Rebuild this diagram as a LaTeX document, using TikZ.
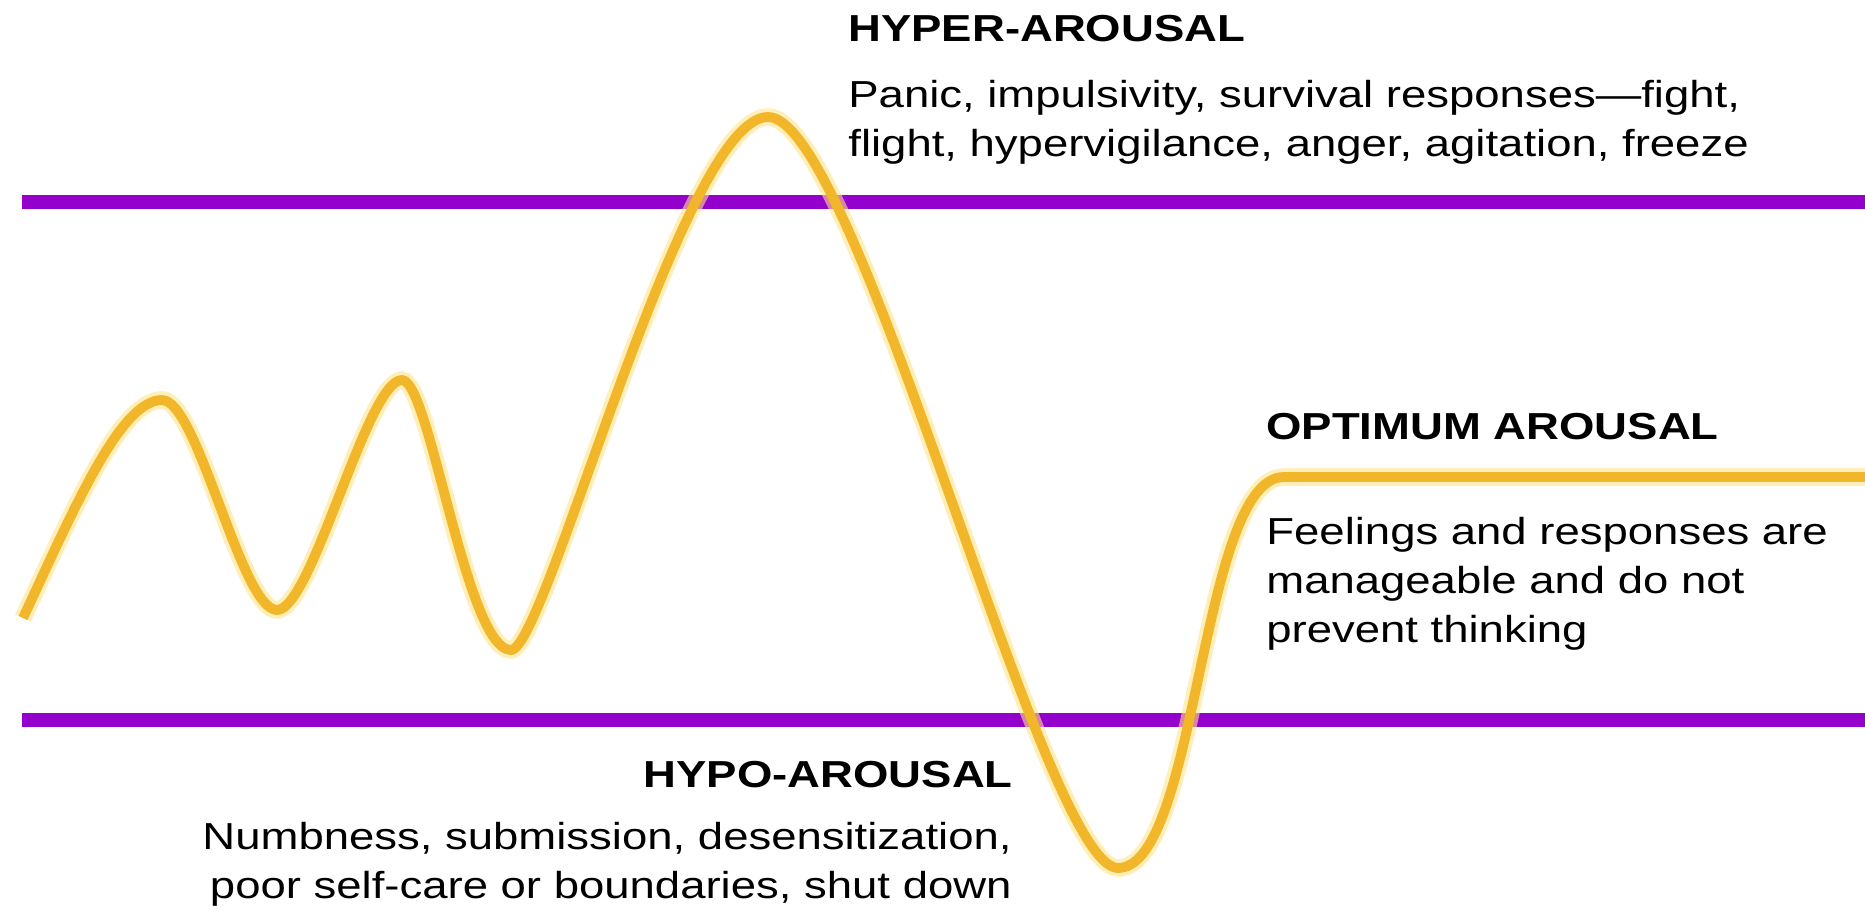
\documentclass[tikz,border=0pt]{standalone}
\usepackage{fontspec}
\setmainfont{Liberation Sans}[FakeStretch=1.21]
\definecolor{bandpurple}{RGB}{148,0,204}
\definecolor{wavegold}{RGB}{242,182,42}
\definecolor{waveglow}{RGB}{255,228,140}
\begin{document}
\begin{tikzpicture}[x=0.02cm, y=-0.02cm,
  band/.style={draw=bandpurple, line width=7.6pt},
  wave/.style={draw=wavegold, line width=5.6pt, line join=round,
    preaction={draw=waveglow, line width=10pt, opacity=0.6}},
  heading/.style={inner sep=0pt, font=\fontsize{21.4}{27.8}\selectfont\bfseries},
  desc/.style={inner sep=0pt, font=\fontsize{21.4}{27.8}\selectfont}]
  \useasboundingbox (0,0) rectangle (1865,911);
  % window limits
  \draw[band] (22,202) -- (1865,202);
  \draw[band] (22,720) -- (1865,720);
  % arousal curve
  \draw[wave] (23,618) .. controls (73,511) and (120,400) .. (162,400)
    .. controls (198,400) and (241,610) .. (277,610)
    .. controls (312,610) and (367,380) .. (402,380)
    .. controls (430,380) and (466,650) .. (511,650)
    .. controls (546,650) and (682,117) .. (768,117)
    .. controls (858,117) and (1043,868) .. (1118,868)
    .. controls (1198,868) and (1200,477) .. (1284,477) -- (1865,477);
  % labels
  \node[heading, anchor=base west] (hyper) at (848,42) {HYPER-AROUSAL};
  \node[desc, anchor=north west, align=left] (hyperdesc) at (848,80)
    {Panic, impulsivity, survival responses—fight,\\flight, hypervigilance, anger, agitation, freeze};
  \node[heading, anchor=base west] (optimum) at (1266,440) {OPTIMUM AROUSAL};
  \node[desc, anchor=north west, align=left] (optimumdesc) at (1266,517)
    {Feelings and responses are\\manageable and do not\\prevent thinking};
  \node[heading, anchor=base east] (hypo) at (1013,787) {HYPO-AROUSAL};
  \node[desc, anchor=north east, align=right] (hypodesc) at (1012,822)
    {Numbness, submission, desensitization,\\poor self-care or boundaries, shut down};
\end{tikzpicture}
\end{document}
